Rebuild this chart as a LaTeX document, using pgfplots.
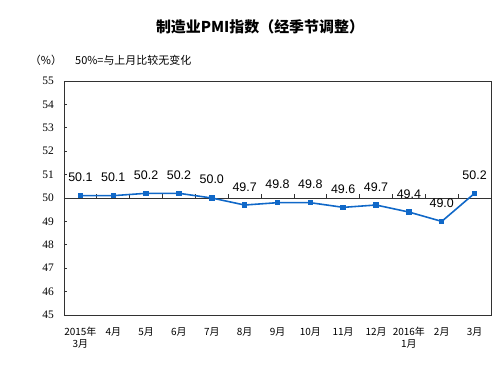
\documentclass[border=0pt]{standalone}
\usepackage{pgfplots}
\pgfplotsset{compat=1.18}
\usepackage{fontspec}
\setmainfont{Liberation Sans}
\newfontfamily\cjk{Noto Sans CJK SC}
\newfontfamily\serif{Liberation Serif}
\definecolor{pmiblue}{RGB}{16,104,200}
\definecolor{axgray}{RGB}{50,50,50}
\begin{document}
\begin{tikzpicture}[x=1bp,y=1bp]
\useasboundingbox (-64bp,-52bp) rectangle (434bp,315bp);
\begin{axis}[
  at={(0,0)}, anchor=south west,
  width=427bp, height=234bp, scale only axis,
  xmin=-0.5, xmax=12.5, ymin=45, ymax=55,
  xtick={0,...,12},
  xticklabels={{2015年\\3月},4月,5月,6月,7月,8月,9月,10月,11月,12月,{2016年\\1月},2月,3月},
  ytick={45,...,55},
  axis line style={draw=axgray, line width=0.9pt},
  tick style={draw=axgray, line width=0.7pt},
  tick align=inside,
  x tick style={draw=none},
  major tick length=3.5bp,
  ytick pos=left, xtick pos=bottom,
  /pgf/number format/assume math mode=true,
  yticklabel style={font=\serif\fontsize{11.5}{11.5}\selectfont, inner sep=0pt, xshift=-10bp},
  xticklabel style={font=\cjk\fontsize{10}{11.5}\selectfont, align=center, inner sep=0pt, yshift=-12bp},
  nodes near coords={\pgfmathprintnumber[fixed,precision=1,zerofill]{\pgfplotspointmeta}},
  every node near coord/.append style={font=\fontsize{12.5}{12.5}\selectfont, anchor=base, inner sep=0pt, yshift=14bp, text=black},
  clip=false,
]
\draw[axgray, line width=0.8pt] (axis cs:-0.5,50) -- (axis cs:12.5,50);
\pgfplotsinvokeforeach{0.5,1.5,2.5,3.5,4.5,5.5,6.5,7.5,8.5,9.5,10.5,11.5}{
  \draw[axgray, line width=0.7pt] (axis cs:#1,50) -- (axis cs:#1,50.17);
}
\addplot[color=pmiblue, line width=1.6pt, mark=square*, mark size=2.2bp, mark options={fill=pmiblue, draw=pmiblue, line width=0pt}]
coordinates {
(0,50.1) (1,50.1) (2,50.2) (3,50.2) (4,50.0) (5,49.7) (6,49.8) (7,49.8) (8,49.6) (9,49.7) (10,49.4) (11,49.0) (12,50.2)
};
\end{axis}
\node[font=\cjk\bfseries\fontsize{15}{15}\selectfont] at (196,288) {制造业PMI指数（经季节调整）};
\node[font=\cjk\fontsize{11}{11}\selectfont] at (-18,255) {（\%）};
\node[font=\cjk\fontsize{11}{11}\selectfont, anchor=west, inner sep=0pt] at (11,255) {50\%=与上月比较无变化};
\end{tikzpicture}
\end{document}
